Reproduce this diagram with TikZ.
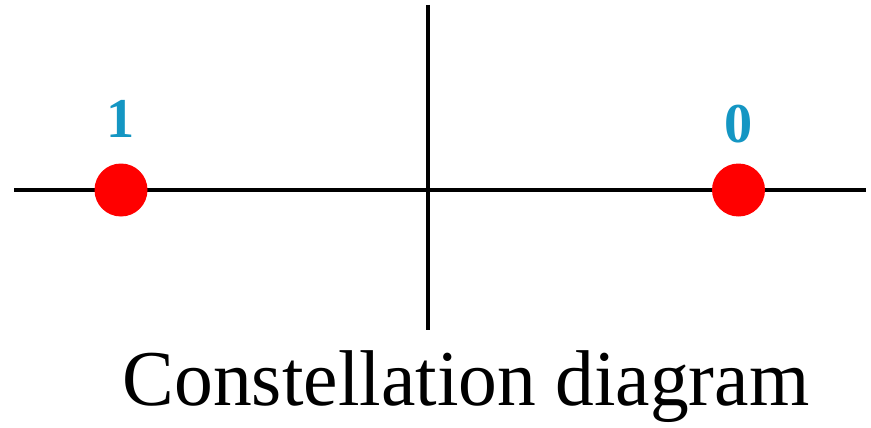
\documentclass[tikz,border=0pt]{standalone}
\usepackage{fontspec}
\setmainfont{Liberation Serif}
\definecolor{bitcyan}{RGB}{20,150,195}
\tikzset{
  sigpoint/.style={circle, fill=red, inner sep=0pt, minimum size=1.06cm},
  bitlabel/.style={text=bitcyan, font=\fontsize{32}{32}\selectfont\bfseries},
  axisline/.style={line width=2.8pt}
}
\begin{document}
\begin{tikzpicture}
	\useasboundingbox (0,0) rectangle (17.42,8.54);
	\coordinate (xl) at (0.28,4.74);
	\coordinate (xr) at (17.32,4.74);
	\coordinate (yt) at (8.56,8.44);
	\coordinate (yb) at (8.56,1.94);
	\draw[axisline] (xl) -- (xr);
	\draw[axisline] (yt) -- (yb);
	\node[sigpoint] (one) at (2.42,4.74) {};
	\node[sigpoint] (zero) at (14.77,4.74) {};
	\node[bitlabel] (lone) at (2.42,6.16) {1};
	\node[bitlabel] (lzero) at (14.77,6.06) {0};
	\node[anchor=base, font=\fontsize{45}{45}\selectfont, xscale=0.98] (title) at (9.32,0.44) {Constellation diagram};
\end{tikzpicture}
\end{document}
